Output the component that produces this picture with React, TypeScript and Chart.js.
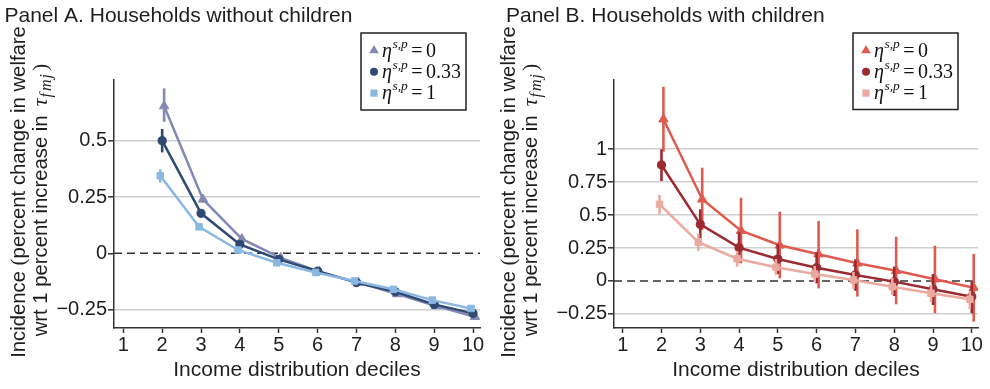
import React, { useEffect, useRef } from 'react';
import { Chart, registerables } from 'chart.js';

Chart.register(...registerables);

// ---------- data ----------
const deciles = [2, 3, 4, 5, 6, 7, 8, 9, 10];
const xTickValues = [1, 2, 3, 4, 5, 6, 7, 8, 9, 10];
const yTicksA = [-0.25, 0, 0.25, 0.5];
const yTicksB = [-0.25, 0, 0.25, 0.5, 0.75, 1];
const etaLabels = ['0', '0.33', '1'];

// Panel A: households without children
const aEta0 = [0.655, 0.24, 0.064, -0.02, -0.082, -0.13, -0.181, -0.234, -0.282];
const aEta0Lo = [0.585, 0.225, 0.055, -0.028, -0.088, -0.136, -0.188, -0.242, -0.29];
const aEta0Hi = [0.734, 0.255, 0.073, -0.012, -0.076, -0.124, -0.174, -0.226, -0.274];
const aEta033 = [0.501, 0.178, 0.04, -0.027, -0.079, -0.13, -0.171, -0.227, -0.267];
const aEta033Lo = [0.449, 0.168, 0.033, -0.033, -0.085, -0.136, -0.178, -0.234, -0.275];
const aEta033Hi = [0.553, 0.188, 0.047, -0.021, -0.073, -0.124, -0.164, -0.22, -0.259];
const aEta1 = [0.345, 0.118, 0.015, -0.042, -0.085, -0.123, -0.16, -0.208, -0.245];
const aEta1Lo = [0.314, 0.112, 0.01, -0.047, -0.09, -0.128, -0.165, -0.213, -0.25];
const aEta1Hi = [0.374, 0.124, 0.02, -0.037, -0.08, -0.118, -0.155, -0.203, -0.24];

// Panel B: households with children
const bEta0 = [1.228, 0.62, 0.382, 0.271, 0.203, 0.134, 0.078, 0.013, -0.051];
const bEta0Lo = [0.982, 0.387, 0.134, 0.02, -0.056, -0.119, -0.177, -0.245, -0.309];
const bEta0Hi = [1.475, 0.86, 0.632, 0.526, 0.455, 0.392, 0.336, 0.268, 0.205];
const bEta033 = [0.881, 0.43, 0.253, 0.167, 0.101, 0.046, -0.005, -0.063, -0.119];
const bEta033Lo = [0.759, 0.324, 0.139, 0.053, -0.018, -0.074, -0.114, -0.182, -0.245];
const bEta033Hi = [1.0, 0.544, 0.37, 0.281, 0.218, 0.165, 0.109, 0.053, -0.005];
const bEta1 = [0.582, 0.294, 0.169, 0.104, 0.053, 0.008, -0.043, -0.093, -0.139];
const bEta1Lo = [0.509, 0.228, 0.109, 0.046, -0.008, -0.061, -0.106, -0.16, -0.213];
const bEta1Hi = [0.653, 0.362, 0.228, 0.167, 0.114, 0.068, 0.023, -0.03, -0.076];

// ---------- styling ----------
const TEXT = '#1e1e1e';
const AXIS = '#333333';
const GRID = '#cfcfcf';
const SANS = '"Liberation Sans", Arial, Helvetica, sans-serif';
const SERIF = '"Liberation Serif", "Times New Roman", serif';
const dodge = [0.05, 0, -0.05];
const styles = ['triangle', 'circle', 'rect'];
const radii: Record<string, number> = { triangle: 5.4, circle: 4.1, rect: 4.6 };

type Series = { values: number[]; lo: number[]; hi: number[]; color: string };

const panels = [
  {
    title: 'Panel A. Households without children',
    titleX: 4.5,
    yMin: -0.332,
    yMax: 0.771,
    yTicks: yTicksA,
    xMin: 0.76,
    xMax: 10.18,
    yAxisWidth: 114,
    padRight: 15,
    yTitleX: [25, 47],
    legend: { x: 361, y: 33, w: 105, h: 77 },
    series: [
      { values: aEta0, lo: aEta0Lo, hi: aEta0Hi, color: '#8389b4' },
      { values: aEta033, lo: aEta033Lo, hi: aEta033Hi, color: '#2e4a72' },
      { values: aEta1, lo: aEta1Lo, hi: aEta1Hi, color: '#8ab8e2' },
    ] as Series[],
  },
  {
    title: 'Panel B. Households with children',
    titleX: 11,
    yMin: -0.357,
    yMax: 1.526,
    yTicks: yTicksB,
    xMin: 0.776,
    xMax: 10.16,
    yAxisWidth: 119,
    padRight: 12,
    yTitleX: [20, 42],
    legend: { x: 358, y: 33, w: 105, h: 76.5 },
    series: [
      { values: bEta0, lo: bEta0Lo, hi: bEta0Hi, color: '#e05a4f' },
      { values: bEta033, lo: bEta033Lo, hi: bEta033Hi, color: '#9b2a31' },
      { values: bEta1, lo: bEta1Lo, hi: bEta1Hi, color: '#eaaa9f' },
    ] as Series[],
  },
];

function fmt(v: number) {
  if (v < 0) return '\u2212' + String(Math.abs(v));
  return String(v);
}

function drawMarker(ctx: CanvasRenderingContext2D, style: string, x: number, y: number, color: string) {
  ctx.fillStyle = color;
  ctx.beginPath();
  if (style === 'triangle') {
    const r = 5.6;
    ctx.moveTo(x, y - r);
    ctx.lineTo(x + r * 0.866, y + r * 0.5);
    ctx.lineTo(x - r * 0.866, y + r * 0.5);
    ctx.closePath();
  } else if (style === 'circle') {
    ctx.arc(x, y, 4, 0, Math.PI * 2);
  } else {
    ctx.rect(x - 3.6, y - 3.6, 7.2, 7.2);
  }
  ctx.fill();
}

type Seg = { text: string; font: string; dy?: number; gap?: number };

function drawSegments(ctx: CanvasRenderingContext2D, segs: Seg[], startX: number, baseY: number) {
  let x = startX;
  for (const s of segs) {
    x += s.gap || 0;
    ctx.font = s.font;
    ctx.fillText(s.text, x, baseY + (s.dy || 0));
    x += ctx.measureText(s.text).width;
  }
}

function segWidth(ctx: CanvasRenderingContext2D, segs: Seg[]) {
  let w = 0;
  for (const s of segs) {
    ctx.font = s.font;
    w += ctx.measureText(s.text).width + (s.gap || 0);
  }
  return w;
}

function makeChart(canvas: HTMLCanvasElement, panel: (typeof panels)[number]) {
  const datasets = panel.series.map((s, i) => ({
    label: '\u03b7 = ' + etaLabels[i],
    data: deciles.map((d, j) => ({ x: d + dodge[i], y: s.values[j] })),
    borderColor: s.color,
    backgroundColor: s.color,
    pointBackgroundColor: s.color,
    pointBorderColor: s.color,
    pointBorderWidth: 1,
    pointStyle: styles[i],
    pointRadius: radii[styles[i]],
    borderWidth: 2.5,
    tension: 0,
    order: 2 - i,
  }));

  const errorBars = {
    id: 'errorBars',
    beforeDatasetDraw(chart: any, args: any) {
      const i = args.index;
      const s = panel.series[i];
      const xs = chart.scales.x;
      const ys = chart.scales.y;
      const ctx = chart.ctx;
      ctx.save();
      ctx.strokeStyle = s.color;
      ctx.lineWidth = 2.6;
      deciles.forEach((d, j) => {
        const px = xs.getPixelForValue(d + dodge[i]);
        ctx.beginPath();
        ctx.moveTo(px, ys.getPixelForValue(s.lo[j]));
        ctx.lineTo(px, ys.getPixelForValue(s.hi[j]));
        ctx.stroke();
      });
      ctx.restore();
    },
  };

  const zeroLine = {
    id: 'zeroLine',
    beforeDatasetsDraw(chart: any) {
      const { ctx, chartArea } = chart;
      const y = chart.scales.y.getPixelForValue(0);
      ctx.save();
      ctx.strokeStyle = AXIS;
      ctx.lineWidth = 1.5;
      ctx.setLineDash([8, 5]);
      ctx.beginPath();
      ctx.moveTo(chartArea.left, y);
      ctx.lineTo(chartArea.right, y);
      ctx.stroke();
      ctx.restore();
    },
  };

  const texts = {
    id: 'texts',
    afterDraw(chart: any) {
      const ctx: CanvasRenderingContext2D = chart.ctx;
      ctx.save();
      ctx.fillStyle = TEXT;
      ctx.textBaseline = 'alphabetic';
      ctx.textAlign = 'left';
      // panel title
      ctx.font = '21px ' + SANS;
      ctx.fillText(panel.title, panel.titleX, 22);

      // y-axis title (rotated, two lines)
      const line1: Seg[] = [
        { text: 'Incidence ', font: '20.3px ' + SANS },
        { text: '(', font: '21px ' + SERIF },
        { text: 'percent change in welfare', font: '20.3px ' + SANS },
      ];
      const line2: Seg[] = [
        { text: 'wrt 1 percent increase in', font: '20.3px ' + SANS },
        { text: '\u03c4', font: 'italic 22px ' + SERIF, gap: 9 },
        { text: 'f', font: 'italic 16px ' + SERIF, dy: 4, gap: 1 },
        { text: 'm', font: 'italic 16px ' + SERIF, dy: 4, gap: 2 },
        { text: 'j', font: 'italic 16px ' + SERIF, dy: 4, gap: 1 },
        { text: ')', font: '22px ' + SERIF, gap: 3 },
      ];
      // line 1 centered, line 2 anchored at its start
      ctx.save();
      ctx.translate(panel.yTitleX[0], 192);
      ctx.rotate(-Math.PI / 2);
      drawSegments(ctx, line1, -segWidth(ctx, line1) / 2, 0);
      ctx.restore();

      ctx.save();
      ctx.translate(panel.yTitleX[1], 192);
      ctx.rotate(-Math.PI / 2);
      const w2 = segWidth(ctx, line2);
      drawSegments(ctx, line2, -w2 / 2 - 8, 0);
      ctx.restore();

      // legend
      const b = panel.legend;
      ctx.fillStyle = '#ffffff';
      ctx.fillRect(b.x, b.y, b.w, b.h);
      ctx.strokeStyle = '#222222';
      ctx.lineWidth = 1.5;
      ctx.strokeRect(b.x, b.y, b.w, b.h);
      panel.series.forEach((s, i) => {
        const rowY = b.y + 17.5 + i * 21.3;
        drawMarker(ctx, styles[i], b.x + 13, rowY, s.color);
        ctx.fillStyle = '#111111';
        const base = rowY + 6;
        let x = b.x + 21;
        ctx.font = 'italic 20px ' + SERIF;
        ctx.fillText('\u03b7', x, base);
        x += ctx.measureText('\u03b7').width + 0.5;
        ctx.font = 'italic 13.5px ' + SERIF;
        ctx.fillText('s,p', x, base - 9);
        x += ctx.measureText('s,p').width + 3.5;
        ctx.font = '20px ' + SERIF;
        ctx.fillText('=', x, base);
        x += ctx.measureText('=').width + 3.5;
        ctx.fillText(etaLabels[i], x, base);
      });
      ctx.restore();
    },
  };

  return new Chart(canvas, {
    type: 'line',
    data: { datasets },
    plugins: [zeroLine, errorBars, texts],
    options: {
      animation: false,
      responsive: false,
      devicePixelRatio: 1,
      layout: { padding: { top: 80, right: panel.padRight, left: 0, bottom: 0 } },
      plugins: { legend: { display: false }, tooltip: { enabled: false }, title: { display: false } },
      scales: {
        x: {
          type: 'linear',
          min: panel.xMin,
          max: panel.xMax,
          afterBuildTicks: (s: any) => {
            s.ticks = xTickValues.map((v) => ({ value: v }));
          },
          afterFit: (s: any) => {
            s.height = 61;
          },
          ticks: {
            autoSkip: false,
            maxRotation: 0,
            padding: 0,
            color: TEXT,
            font: { family: SANS, size: 20 },
            callback: (v: any) => String(v),
          },
          grid: {
            drawOnChartArea: false,
            drawTicks: true,
            tickLength: 5,
            tickColor: AXIS,
            tickWidth: 1.5,
          },
          border: { display: true, color: AXIS, width: 1.5 },
          title: {
            display: true,
            text: 'Income distribution deciles',
            color: TEXT,
            font: { family: SANS, size: 21, lineHeight: 1.2 },
            padding: { top: 0, bottom: 5.7 },
          },
        },
        y: {
          type: 'linear',
          min: panel.yMin,
          max: panel.yMax,
          afterBuildTicks: (s: any) => {
            s.ticks = panel.yTicks.map((v) => ({ value: v }));
          },
          afterFit: (s: any) => {
            s.width = panel.yAxisWidth;
          },
          ticks: {
            padding: 1,
            color: TEXT,
            font: { family: SANS, size: 20 },
            callback: (v: any) => fmt(Number(v)),
          },
          grid: {
            color: (c: any) => (c.tick && Math.abs(c.tick.value) < 1e-9 ? 'rgba(0,0,0,0)' : GRID),
            lineWidth: 1.6,
            drawTicks: true,
            tickLength: 6,
            tickColor: AXIS,
            tickWidth: 1.5,
          },
          border: { display: true, color: AXIS, width: 1.5 },
        },
      },
    },
  } as any);
}

function Panel({ index }: { index: number }) {
  const ref = useRef<HTMLCanvasElement | null>(null);
  useEffect(() => {
    if (!ref.current) return;
    const chart = makeChart(ref.current, panels[index]);
    return () => chart.destroy();
  }, [index]);
  return (
    <canvas
      ref={ref}
      width={495}
      height={389}
      style={{ position: 'absolute', top: 0, left: index * 495, width: 495, height: 389 }}
    />
  );
}

export default function App() {
  return (
    <div style={{ position: 'absolute', top: 0, left: 0, width: 990, height: 389, background: '#ffffff' }}>
      <Panel index={0} />
      <Panel index={1} />
    </div>
  );
}
